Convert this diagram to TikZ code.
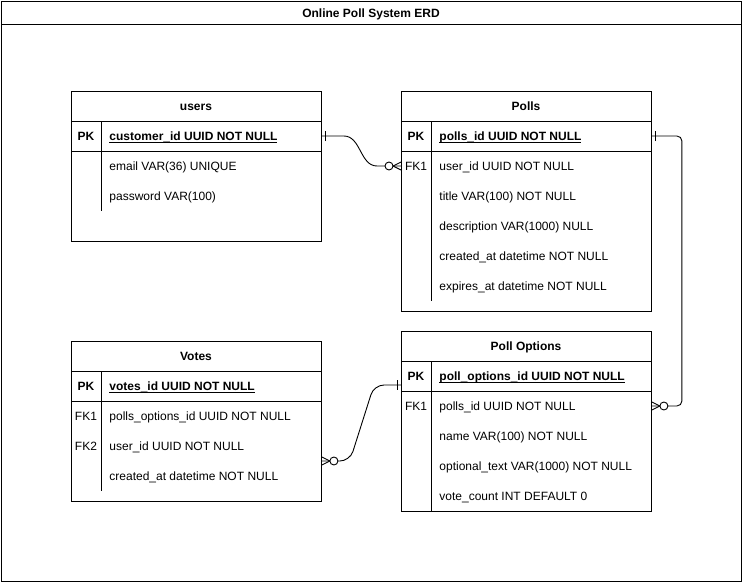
\documentclass[tikz,border=0pt]{standalone}
\usepackage{fontspec}
\setmainfont{Liberation Sans}
\usetikzlibrary{positioning}

% underlined primary key text
\newcommand{\pkline}[1]{\setbox0\hbox{#1}\rlap{\rule[-2.2pt]{\wd0}{0.9pt}}\box0}

\tikzset{
  erbox/.style={draw, anchor=north west, minimum width=250pt, inner sep=0pt},
  txt/.style={inner sep=0pt, text height=11pt, text depth=2.4pt},
  headtxt/.style={txt, font=\fontsize{12}{14}\selectfont\bfseries},
  keytxt/.style={txt},
  field/.style={txt, anchor=west},
  onebar/.pic={\draw (-4,-5) -- (-4,5);},
  zeromany/.pic={\draw (-8,0) -- (0,-4) (-8,0) -- (0,4);
    \draw[fill=white] (-12,0) circle[radius=4pt];}
}

\begin{document}
\begin{tikzpicture}[x=1pt, y=-1pt, line width=0.9pt,
  every node/.append style={font=\fontsize{12}{14}\selectfont}]
\useasboundingbox (0,0) rectangle (743,583);

% frame and title
\node[draw, anchor=north west, minimum width=740pt, minimum height=580pt, inner sep=0pt] (frame) at (1,1) {};
\draw (frame.north west) ++(0,23) -- ++(740,0);
\node[headtxt] (title) at (371,13) {Online Poll System ERD};

% users
\node[erbox, minimum height=150pt] (users) at (71,91) {};
\draw (users.north west) ++(0,30) -- ++(250,0);
\draw (users.north west) ++(0,60) -- ++(250,0);
\draw (users.north west) ++(30,30) -- ++(0,90);
\node[headtxt] (users-title) at (196,106) {users};
\node[keytxt, font=\fontsize{12}{14}\selectfont\bfseries] (users-pk-key) at (86,136) {PK};
\node[field, font=\fontsize{12}{14}\selectfont\bfseries] (users-pk) at (109,136) {\pkline{customer\_id UUID NOT NULL}};
\node[field] (users-email) at (109,166) {email VAR(36) UNIQUE};
\node[field] (users-pass) at (109,196) {password VAR(100)};

% Polls
\node[erbox, minimum height=220pt] (polls) at (401,91) {};
\draw (polls.north west) ++(0,30) -- ++(250,0);
\draw (polls.north west) ++(0,60) -- ++(250,0);
\draw (polls.north west) ++(30,30) -- ++(0,180);
\node[headtxt] (polls-title) at (526,106) {Polls};
\node[keytxt, font=\fontsize{12}{14}\selectfont\bfseries] (polls-pk-key) at (416,136) {PK};
\node[field, font=\fontsize{12}{14}\selectfont\bfseries] (polls-pk) at (439,136) {\pkline{polls\_id UUID NOT NULL}};
\node[keytxt] (polls-fk-key) at (416,166) {FK1};
\node[field] (polls-fk) at (439,166) {user\_id UUID NOT NULL};
\node[field] (polls-title-f) at (439,196) {title VAR(100) NOT NULL};
\node[field] (polls-desc) at (439,226) {description VAR(1000) NULL};
\node[field] (polls-created) at (439,256) {created\_at datetime NOT NULL};
\node[field] (polls-expires) at (439,286) {expires\_at datetime NOT NULL};

% Votes
\node[erbox, minimum height=160pt] (votes) at (71,341) {};
\draw (votes.north west) ++(0,30) -- ++(250,0);
\draw (votes.north west) ++(0,60) -- ++(250,0);
\draw (votes.north west) ++(30,30) -- ++(0,120);
\node[headtxt] (votes-title) at (196,356) {Votes};
\node[keytxt, font=\fontsize{12}{14}\selectfont\bfseries] (votes-pk-key) at (86,386) {PK};
\node[field, font=\fontsize{12}{14}\selectfont\bfseries] (votes-pk) at (109,386) {\pkline{votes\_id UUID NOT NULL}};
\node[keytxt] (votes-fk1-key) at (86,416) {FK1};
\node[field] (votes-fk1) at (109,416) {polls\_options\_id UUID NOT NULL};
\node[keytxt] (votes-fk2-key) at (86,446) {FK2};
\node[field] (votes-fk2) at (109,446) {user\_id UUID NOT NULL};
\node[field] (votes-created) at (109,476) {created\_at datetime NOT NULL};

% Poll Options
\node[erbox, minimum height=180pt] (options) at (401,331) {};
\draw (options.north west) ++(0,30) -- ++(250,0);
\draw (options.north west) ++(0,60) -- ++(250,0);
\draw (options.north west) ++(30,30) -- ++(0,150);
\node[headtxt] (options-title) at (526,346) {Poll Options};
\node[keytxt, font=\fontsize{12}{14}\selectfont\bfseries] (options-pk-key) at (416,376) {PK};
\node[field, font=\fontsize{12}{14}\selectfont\bfseries] (options-pk) at (439,376) {\pkline{poll\_options\_id UUID NOT NULL}};
\node[keytxt] (options-fk-key) at (416,406) {FK1};
\node[field] (options-fk) at (439,406) {polls\_id UUID NOT NULL};
\node[field] (options-name) at (439,436) {name VAR(100) NOT NULL};
\node[field] (options-text) at (439,466) {optional\_text VAR(1000) NOT NULL};
\node[field] (options-count) at (439,496) {vote\_count INT DEFAULT 0};

% relations
\coordinate (users-out) at (users.east |- users-pk);
\coordinate (polls-in) at (polls.west |- polls-fk);
\coordinate (polls-out) at (polls.east |- polls-pk);
\coordinate (options-in) at (options.east |- options-fk);
\coordinate (options-out) at ([yshift=-54pt]options.north west);
\coordinate (votes-in) at ([yshift=-120pt]votes.north east);

\draw (users-out) -- ++(22,0) .. controls +(17,0) and +(-17,0) .. ([xshift=-24pt]polls-in) -- (polls-in);
\pic[rotate=180] at (users-out) {onebar};
\pic at (polls-in) {zeromany};

\draw[rounded corners=5pt] (polls-out) -- ++(30,0) |- (options-in);
\pic[rotate=180] at (polls-out) {onebar};
\pic[rotate=180] at (options-in) {zeromany};

\draw[rounded corners=10pt] (options-out) -- ++(-27,0) -- ([xshift=28pt]votes-in) -- (votes-in);
\pic at (options-out) {onebar};
\pic[rotate=180] at (votes-in) {zeromany};
\end{tikzpicture}
\end{document}
